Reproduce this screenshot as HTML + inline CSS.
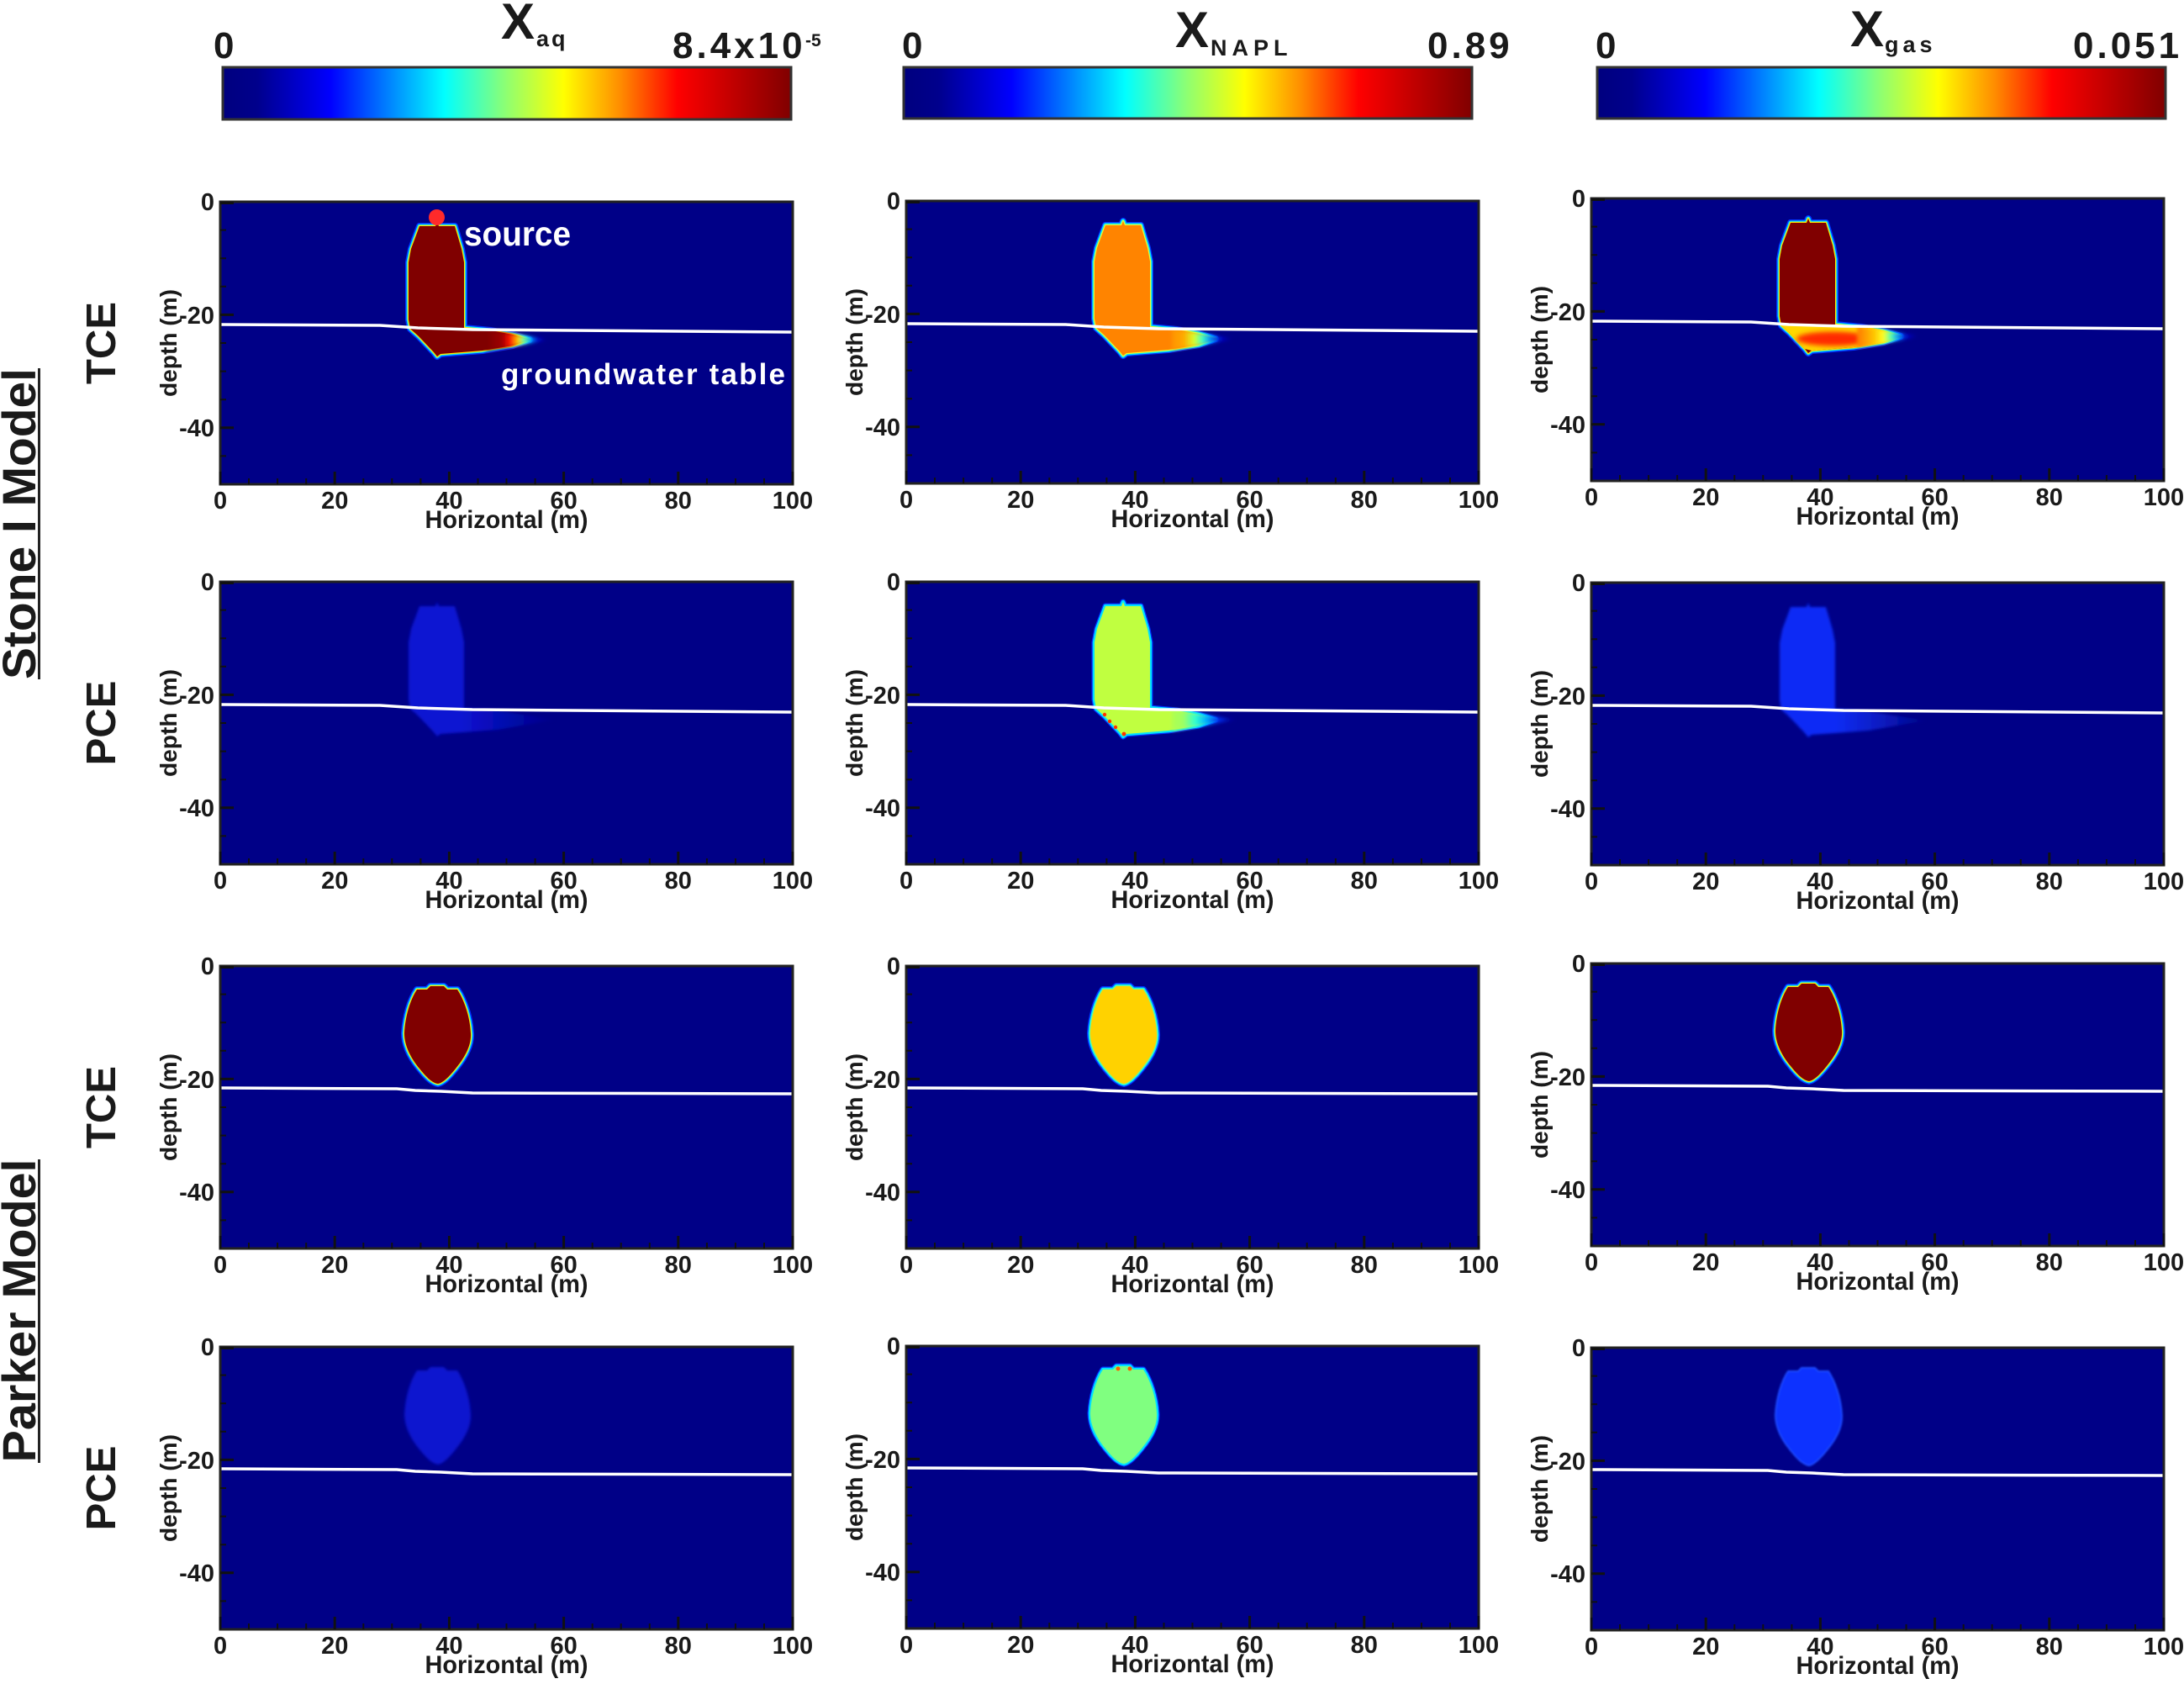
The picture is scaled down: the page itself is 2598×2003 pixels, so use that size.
<!DOCTYPE html>
<html><head><meta charset="utf-8">
<style>
html,body{margin:0;padding:0;background:#fff;width:2598px;height:2003px;overflow:hidden;}
svg{display:block;}
text{font-family:"Liberation Sans",Arial,sans-serif;font-weight:bold;fill:#1a1a1a;}
.xt{font-size:29px;text-anchor:middle;}
.yt{font-size:29px;text-anchor:end;}
.hl{font-size:30px;text-anchor:middle;}
.dl{font-size:28px;text-anchor:middle;}
.rl{font-size:49px;text-anchor:middle;}
.ml{font-size:56px;text-anchor:middle;}
.cb{font-size:44px;letter-spacing:4px;}
</style></head><body>
<svg width="2598" height="2003" viewBox="0 0 2598 2003" xmlns="http://www.w3.org/2000/svg">
<defs>
 <linearGradient id="jet" x1="0" x2="1" y1="0" y2="0">
  <stop offset="0" stop-color="#00007f"/>
  <stop offset="0.06" stop-color="#00008c"/>
  <stop offset="0.19" stop-color="#0000ff"/>
  <stop offset="0.29" stop-color="#0080ff"/>
  <stop offset="0.39" stop-color="#00ffff"/>
  <stop offset="0.50" stop-color="#90ff70"/>
  <stop offset="0.60" stop-color="#ffff00"/>
  <stop offset="0.70" stop-color="#ff8c00"/>
  <stop offset="0.80" stop-color="#ff0000"/>
  <stop offset="1" stop-color="#800000"/>
 </linearGradient>
 <linearGradient id="t11" gradientUnits="userSpaceOnUse" x1="318" y1="0" x2="388" y2="0">
  <stop offset="0" stop-color="#800000"/><stop offset="0.25" stop-color="#a00000"/>
  <stop offset="0.38" stop-color="#ff1000"/><stop offset="0.52" stop-color="#ffd000"/>
  <stop offset="0.62" stop-color="#60ffa0"/><stop offset="0.72" stop-color="#00b0ff"/>
  <stop offset="0.84" stop-color="#0010e0"/><stop offset="1" stop-color="#000087"/>
 </linearGradient>
 <linearGradient id="t12" gradientUnits="userSpaceOnUse" x1="305" y1="0" x2="388" y2="0">
  <stop offset="0" stop-color="#ff8400"/><stop offset="0.3" stop-color="#ffa800"/>
  <stop offset="0.45" stop-color="#d8ff28"/><stop offset="0.57" stop-color="#40ffc0"/>
  <stop offset="0.68" stop-color="#0090ff"/><stop offset="0.82" stop-color="#0008d0"/>
  <stop offset="1" stop-color="#000087"/>
 </linearGradient>
 <linearGradient id="t13" gradientUnits="userSpaceOnUse" x1="318" y1="0" x2="388" y2="0">
  <stop offset="0" stop-color="#ff8000"/><stop offset="0.25" stop-color="#ffc000"/>
  <stop offset="0.42" stop-color="#ffff20"/><stop offset="0.55" stop-color="#50ffb0"/>
  <stop offset="0.67" stop-color="#0090ff"/><stop offset="0.8" stop-color="#0008d0"/>
  <stop offset="1" stop-color="#000087"/>
 </linearGradient>
 <linearGradient id="t22" gradientUnits="userSpaceOnUse" x1="300" y1="0" x2="398" y2="0">
  <stop offset="0" stop-color="#c0ff40"/><stop offset="0.3" stop-color="#a0ff60"/>
  <stop offset="0.45" stop-color="#30ffd0"/><stop offset="0.58" stop-color="#00b0ff"/>
  <stop offset="0.72" stop-color="#0030f0"/><stop offset="0.86" stop-color="#0010b0"/>
  <stop offset="1" stop-color="#000087"/>
 </linearGradient>
 <linearGradient id="f21" gradientUnits="userSpaceOnUse" x1="285" y1="0" x2="398" y2="0">
  <stop offset="0" stop-color="#0a14d2"/><stop offset="1" stop-color="#000087"/>
 </linearGradient>
 <linearGradient id="f23" gradientUnits="userSpaceOnUse" x1="290" y1="0" x2="400" y2="0">
  <stop offset="0" stop-color="#0c2cf5"/><stop offset="0.5" stop-color="#0a1cc0"/><stop offset="1" stop-color="#000087"/>
 </linearGradient>
 <filter id="bl2" x="-30%" y="-30%" width="160%" height="160%"><feGaussianBlur stdDeviation="2"/></filter>
 <filter id="bl3" x="-30%" y="-30%" width="160%" height="160%"><feGaussianBlur stdDeviation="3"/></filter>
 <filter id="bl15" x="-20%" y="-20%" width="140%" height="140%"><feGaussianBlur stdDeviation="1.5"/></filter>
 <filter id="bl1" x="-20%" y="-20%" width="140%" height="140%"><feGaussianBlur stdDeviation="1"/></filter>

 <path id="pl" d="M237,29 L256,29 L258,24 L260,29 L279,29 L287,56 L290,72 L290,150 L322,153 L348,158 L368,164 L348,171 L312,177 L262,181 L258,184 L254,179 L236,160 L226,151 L224,140 L224,72 L227,56 Z"/>
 <path id="plL" d="M237,29 L256,29 L258,24 L260,29 L279,29 L287,56 L290,72 L290,150 L330,153 L398,164 L330,176 L262,181 L258,184 L254,179 L236,160 L226,151 L224,140 L224,72 L227,56 Z"/>
 <path id="tip" d="M316,152 L348,157 L392,164 L348,172 L316,177 Z"/>
 <path id="lo" d="M226,151 L290,150 L322,153 L348,158 L368,164 L348,171 L312,177 L262,181 L254,179 L236,160 Z"/>
 <path id="egg" d="M250,24 L266,24 L270,28 L282,28 C290,40 297,60 298,80 C299,95 290,110 280,122 C272,132 265,139 259,140 C252,139 245,132 237,122 C227,110 219,95 219,80 C220,60 226,40 234,28 L246,28 Z"/>
 <polyline id="wt1" fill="none" points="1.5,146 190,147 235,150 300,152 679.5,155"/>
 <polyline id="wt2" fill="none" points="1.5,145 210,146 232,148 262,149 300,151 679.5,152"/>
 <g id="fr">
  <rect x="0" y="0" width="681" height="336" fill="none" stroke="#222" stroke-width="3"/>
  <path fill="none" stroke="#111" stroke-width="3" d="M0,336v-15 M136.2,336v-15 M272.4,336v-15 M408.6,336v-15 M544.8,336v-15 M681,336v-15 M0,1.5h16 M0,134.4h16 M0,268.8h16"/>
  <path fill="none" stroke="#111" stroke-width="2" d="M34,336v-7 M68.1,336v-7 M102.2,336v-7 M170.3,336v-7 M204.3,336v-7 M238.4,336v-7 M306.5,336v-7 M340.5,336v-7 M374.6,336v-7 M442.7,336v-7 M476.7,336v-7 M510.8,336v-7 M578.9,336v-7 M612.9,336v-7 M647,336v-7 M0,33.6h7 M0,67.2h7 M0,100.8h7 M0,168h7 M0,201.6h7 M0,235.2h7 M0,302.4h7"/>
 </g>
</defs>

<rect x="0" y="0" width="2598" height="2003" fill="#fff"/>

<!-- Colorbars -->
<rect x="265" y="80" width="676" height="62" fill="url(#jet)" stroke="#333" stroke-width="3"/>
<rect x="1075" y="80" width="676" height="61" fill="url(#jet)" stroke="#333" stroke-width="3"/>
<rect x="1900" y="80" width="676" height="61" fill="url(#jet)" stroke="#333" stroke-width="3"/>

<text class="cb" x="254" y="69">0</text>
<text class="cb" x="800" y="69">8.4x10</text>
<text x="958" y="55" style="font-size:21px">-5</text>
<text x="596" y="46" style="font-size:60px">X</text>
<text x="638" y="55" style="font-size:27px;letter-spacing:3px">aq</text>

<text class="cb" x="1073" y="69">0</text>
<text class="cb" x="1698" y="69">0.89</text>
<text x="1398" y="56" style="font-size:60px">X</text>
<text x="1440" y="66" style="font-size:27px;letter-spacing:6px">NAPL</text>

<text class="cb" x="1898" y="69">0</text>
<text class="cb" x="2466" y="69">0.051</text>
<text x="2201" y="55" style="font-size:60px">X</text>
<text x="2242" y="62" style="font-size:27px;letter-spacing:5px">gas</text>

<!-- Left labels -->
<text class="ml" transform="translate(42,623) rotate(-90)" textLength="370" lengthAdjust="spacingAndGlyphs">Stone I Model</text>
<line x1="46.5" y1="438" x2="46.5" y2="808" stroke="#222" stroke-width="3"/>
<text class="ml" transform="translate(42,1559) rotate(-90)" textLength="361" lengthAdjust="spacingAndGlyphs">Parker Model</text>
<line x1="46.5" y1="1379" x2="46.5" y2="1740" stroke="#222" stroke-width="3"/>

<text class="rl" transform="translate(137,408) rotate(-90)">TCE</text>
<text class="rl" transform="translate(137,860) rotate(-90)">PCE</text>
<text class="rl" transform="translate(137,1317) rotate(-90)">TCE</text>
<text class="rl" transform="translate(137,1770) rotate(-90)">PCE</text>

<!-- ROW 1 -->
<g transform="translate(262,240)">
 <rect width="681" height="336" fill="#000087"/>
 <use href="#pl" fill="none" stroke="#0030ff" stroke-width="8" stroke-linejoin="round"/>
 <use href="#pl" fill="none" stroke="#00e0ff" stroke-width="5" stroke-linejoin="round"/>
 <use href="#pl" fill="none" stroke="#ffe800" stroke-width="2.4" stroke-linejoin="round"/>
 <use href="#pl" fill="#800000"/>
 <use href="#tip" fill="url(#t11)" filter="url(#bl2)"/>
 <circle cx="257.5" cy="18.5" r="9.5" fill="#ff2a2a"/>
 <use href="#wt1" stroke="#fff" stroke-width="3.5"/>
 <use href="#fr"/>
 <text class="xt" x="0" y="365">0</text><text class="xt" x="136.2" y="365">20</text><text class="xt" x="272.4" y="365">40</text><text class="xt" x="408.6" y="365">60</text><text class="xt" x="544.8" y="365">80</text><text class="xt" x="681" y="365">100</text>
 <text class="hl" x="340.5" y="388" textLength="194" lengthAdjust="spacingAndGlyphs">Horizontal (m)</text>
 <text class="yt" x="-7" y="10">0</text><text class="yt" x="-7" y="145">-20</text><text class="yt" x="-7" y="279">-40</text>
 <text class="dl" transform="translate(-52,168) rotate(-90)" textLength="128" lengthAdjust="spacingAndGlyphs">depth (m)</text>
</g>
<text x="552" y="292" style="font-size:41px;fill:#fff" textLength="127" lengthAdjust="spacingAndGlyphs">source</text>
<text x="596" y="457" style="font-size:35px;fill:#fff" textLength="338" lengthAdjust="spacing">groundwater table</text>

<g transform="translate(1078,239)">
 <rect width="681" height="336" fill="#000087"/>
 <use href="#pl" fill="none" stroke="#0030ff" stroke-width="8" stroke-linejoin="round"/>
 <use href="#pl" fill="none" stroke="#00e0ff" stroke-width="5.5" stroke-linejoin="round"/>
 <use href="#pl" fill="none" stroke="#e8ff30" stroke-width="2.5" stroke-linejoin="round"/>
 <use href="#pl" fill="#ff8400"/>
 <use href="#tip" fill="url(#t12)" filter="url(#bl2)"/>
 <use href="#wt1" stroke="#fff" stroke-width="3.5"/>
 <use href="#fr"/>
 <text class="xt" x="0" y="365">0</text><text class="xt" x="136.2" y="365">20</text><text class="xt" x="272.4" y="365">40</text><text class="xt" x="408.6" y="365">60</text><text class="xt" x="544.8" y="365">80</text><text class="xt" x="681" y="365">100</text>
 <text class="hl" x="340.5" y="388" textLength="194" lengthAdjust="spacingAndGlyphs">Horizontal (m)</text>
 <text class="yt" x="-7" y="10">0</text><text class="yt" x="-7" y="145">-20</text><text class="yt" x="-7" y="279">-40</text>
 <text class="dl" transform="translate(-52,168) rotate(-90)" textLength="128" lengthAdjust="spacingAndGlyphs">depth (m)</text>
</g>

<g transform="translate(1893,236)">
 <rect width="681" height="336" fill="#000087"/>
 <use href="#pl" fill="none" stroke="#0030ff" stroke-width="8" stroke-linejoin="round"/>
 <use href="#pl" fill="none" stroke="#00e0ff" stroke-width="5" stroke-linejoin="round"/>
 <use href="#pl" fill="none" stroke="#ffe800" stroke-width="2.4" stroke-linejoin="round"/>
 <use href="#pl" fill="#800000"/>
 <use href="#lo" fill="#ffd800"/>
 <ellipse cx="288" cy="167" rx="44" ry="8.5" fill="#ff2a00" filter="url(#bl3)"/>
 <use href="#tip" fill="url(#t13)" filter="url(#bl2)"/>
 <use href="#wt1" stroke="#fff" stroke-width="3.5"/>
 <use href="#fr"/>
 <text class="xt" x="0" y="365">0</text><text class="xt" x="136.2" y="365">20</text><text class="xt" x="272.4" y="365">40</text><text class="xt" x="408.6" y="365">60</text><text class="xt" x="544.8" y="365">80</text><text class="xt" x="681" y="365">100</text>
 <text class="hl" x="340.5" y="388" textLength="194" lengthAdjust="spacingAndGlyphs">Horizontal (m)</text>
 <text class="yt" x="-7" y="10">0</text><text class="yt" x="-7" y="145">-20</text><text class="yt" x="-7" y="279">-40</text>
 <text class="dl" transform="translate(-52,168) rotate(-90)" textLength="128" lengthAdjust="spacingAndGlyphs">depth (m)</text>
</g>

<!-- ROW 2 -->
<g transform="translate(262,692)">
 <rect width="681" height="336" fill="#000087"/>
 <use href="#plL" fill="url(#f21)" filter="url(#bl15)"/>
 <use href="#wt1" stroke="#fff" stroke-width="3.5"/>
 <use href="#fr"/>
 <text class="xt" x="0" y="365">0</text><text class="xt" x="136.2" y="365">20</text><text class="xt" x="272.4" y="365">40</text><text class="xt" x="408.6" y="365">60</text><text class="xt" x="544.8" y="365">80</text><text class="xt" x="681" y="365">100</text>
 <text class="hl" x="340.5" y="388" textLength="194" lengthAdjust="spacingAndGlyphs">Horizontal (m)</text>
 <text class="yt" x="-7" y="10">0</text><text class="yt" x="-7" y="145">-20</text><text class="yt" x="-7" y="279">-40</text>
 <text class="dl" transform="translate(-52,168) rotate(-90)" textLength="128" lengthAdjust="spacingAndGlyphs">depth (m)</text>
</g>

<g transform="translate(1078,692)">
 <rect width="681" height="336" fill="#000087"/>
 <use href="#pl" fill="none" stroke="#0030ff" stroke-width="7" stroke-linejoin="round"/>
 <use href="#pl" fill="none" stroke="#00e0ff" stroke-width="4.5" stroke-linejoin="round"/>
 <use href="#pl" fill="#c0ff40"/>
 <use href="#tip" fill="url(#t22)" filter="url(#bl2)"/>
 <circle cx="236" cy="158" r="2.2" fill="#ff3000"/>
 <circle cx="242" cy="166" r="2.2" fill="#ff3000"/>
 <circle cx="249" cy="173" r="2.2" fill="#ff3000"/>
 <circle cx="259" cy="181" r="2.4" fill="#ff3000"/>
 <use href="#wt1" stroke="#fff" stroke-width="3.5"/>
 <use href="#fr"/>
 <text class="xt" x="0" y="365">0</text><text class="xt" x="136.2" y="365">20</text><text class="xt" x="272.4" y="365">40</text><text class="xt" x="408.6" y="365">60</text><text class="xt" x="544.8" y="365">80</text><text class="xt" x="681" y="365">100</text>
 <text class="hl" x="340.5" y="388" textLength="194" lengthAdjust="spacingAndGlyphs">Horizontal (m)</text>
 <text class="yt" x="-7" y="10">0</text><text class="yt" x="-7" y="145">-20</text><text class="yt" x="-7" y="279">-40</text>
 <text class="dl" transform="translate(-52,168) rotate(-90)" textLength="128" lengthAdjust="spacingAndGlyphs">depth (m)</text>
</g>

<g transform="translate(1893,693)">
 <rect width="681" height="336" fill="#000087"/>
 <use href="#plL" fill="url(#f23)" filter="url(#bl15)"/>
 <use href="#wt1" stroke="#fff" stroke-width="3.5"/>
 <use href="#fr"/>
 <text class="xt" x="0" y="365">0</text><text class="xt" x="136.2" y="365">20</text><text class="xt" x="272.4" y="365">40</text><text class="xt" x="408.6" y="365">60</text><text class="xt" x="544.8" y="365">80</text><text class="xt" x="681" y="365">100</text>
 <text class="hl" x="340.5" y="388" textLength="194" lengthAdjust="spacingAndGlyphs">Horizontal (m)</text>
 <text class="yt" x="-7" y="10">0</text><text class="yt" x="-7" y="145">-20</text><text class="yt" x="-7" y="279">-40</text>
 <text class="dl" transform="translate(-52,168) rotate(-90)" textLength="128" lengthAdjust="spacingAndGlyphs">depth (m)</text>
</g>

<!-- ROW 3 -->
<g transform="translate(262,1149)">
 <rect width="681" height="336" fill="#000087"/>
 <use href="#egg" fill="none" stroke="#0030ff" stroke-width="8" stroke-linejoin="round"/>
 <use href="#egg" fill="none" stroke="#00e0ff" stroke-width="5" stroke-linejoin="round"/>
 <use href="#egg" fill="none" stroke="#ffe800" stroke-width="2.4" stroke-linejoin="round"/>
 <use href="#egg" fill="#800000"/>
 <use href="#wt2" stroke="#fff" stroke-width="3.5"/>
 <use href="#fr"/>
 <text class="xt" x="0" y="365">0</text><text class="xt" x="136.2" y="365">20</text><text class="xt" x="272.4" y="365">40</text><text class="xt" x="408.6" y="365">60</text><text class="xt" x="544.8" y="365">80</text><text class="xt" x="681" y="365">100</text>
 <text class="hl" x="340.5" y="388" textLength="194" lengthAdjust="spacingAndGlyphs">Horizontal (m)</text>
 <text class="yt" x="-7" y="10">0</text><text class="yt" x="-7" y="145">-20</text><text class="yt" x="-7" y="279">-40</text>
 <text class="dl" transform="translate(-52,168) rotate(-90)" textLength="128" lengthAdjust="spacingAndGlyphs">depth (m)</text>
</g>

<g transform="translate(1078,1149)">
 <rect width="681" height="336" fill="#000087"/>
 <use href="#egg" fill="none" stroke="#0030ff" stroke-width="8" stroke-linejoin="round"/>
 <use href="#egg" fill="none" stroke="#00e0ff" stroke-width="5" stroke-linejoin="round"/>
 <use href="#egg" fill="none" stroke="#70ff90" stroke-width="2.4" stroke-linejoin="round"/>
 <use href="#egg" fill="#ffd200"/>
 <use href="#wt2" stroke="#fff" stroke-width="3.5"/>
 <use href="#fr"/>
 <text class="xt" x="0" y="365">0</text><text class="xt" x="136.2" y="365">20</text><text class="xt" x="272.4" y="365">40</text><text class="xt" x="408.6" y="365">60</text><text class="xt" x="544.8" y="365">80</text><text class="xt" x="681" y="365">100</text>
 <text class="hl" x="340.5" y="388" textLength="194" lengthAdjust="spacingAndGlyphs">Horizontal (m)</text>
 <text class="yt" x="-7" y="10">0</text><text class="yt" x="-7" y="145">-20</text><text class="yt" x="-7" y="279">-40</text>
 <text class="dl" transform="translate(-52,168) rotate(-90)" textLength="128" lengthAdjust="spacingAndGlyphs">depth (m)</text>
</g>

<g transform="translate(1893,1146)">
 <rect width="681" height="336" fill="#000087"/>
 <use href="#egg" fill="none" stroke="#0030ff" stroke-width="8" stroke-linejoin="round"/>
 <use href="#egg" fill="none" stroke="#00e0ff" stroke-width="5" stroke-linejoin="round"/>
 <use href="#egg" fill="none" stroke="#ffe800" stroke-width="2.4" stroke-linejoin="round"/>
 <use href="#egg" fill="#800000"/>
 <use href="#wt2" stroke="#fff" stroke-width="3.5"/>
 <use href="#fr"/>
 <text class="xt" x="0" y="365">0</text><text class="xt" x="136.2" y="365">20</text><text class="xt" x="272.4" y="365">40</text><text class="xt" x="408.6" y="365">60</text><text class="xt" x="544.8" y="365">80</text><text class="xt" x="681" y="365">100</text>
 <text class="hl" x="340.5" y="388" textLength="194" lengthAdjust="spacingAndGlyphs">Horizontal (m)</text>
 <text class="yt" x="-7" y="10">0</text><text class="yt" x="-7" y="145">-20</text><text class="yt" x="-7" y="279">-40</text>
 <text class="dl" transform="translate(-52,168) rotate(-90)" textLength="128" lengthAdjust="spacingAndGlyphs">depth (m)</text>
</g>

<!-- ROW 4 -->
<g transform="translate(262,1602)">
 <rect width="681" height="336" fill="#000087"/>
 <use href="#egg" fill="#0a14cf" filter="url(#bl15)"/>
 <use href="#wt2" stroke="#fff" stroke-width="3.5"/>
 <use href="#fr"/>
 <text class="xt" x="0" y="365">0</text><text class="xt" x="136.2" y="365">20</text><text class="xt" x="272.4" y="365">40</text><text class="xt" x="408.6" y="365">60</text><text class="xt" x="544.8" y="365">80</text><text class="xt" x="681" y="365">100</text>
 <text class="hl" x="340.5" y="388" textLength="194" lengthAdjust="spacingAndGlyphs">Horizontal (m)</text>
 <text class="yt" x="-7" y="10">0</text><text class="yt" x="-7" y="145">-20</text><text class="yt" x="-7" y="279">-40</text>
 <text class="dl" transform="translate(-52,168) rotate(-90)" textLength="128" lengthAdjust="spacingAndGlyphs">depth (m)</text>
</g>

<g transform="translate(1078,1601)">
 <rect width="681" height="336" fill="#000087"/>
 <use href="#egg" fill="none" stroke="#0030ff" stroke-width="7" stroke-linejoin="round"/>
 <use href="#egg" fill="none" stroke="#00e0ff" stroke-width="4.5" stroke-linejoin="round"/>
 <use href="#egg" fill="#80ff80"/>
 <circle cx="252" cy="27" r="2.5" fill="#ff6000"/>
 <circle cx="266" cy="27" r="2.5" fill="#ff6000"/>
 <use href="#wt2" stroke="#fff" stroke-width="3.5"/>
 <use href="#fr"/>
 <text class="xt" x="0" y="365">0</text><text class="xt" x="136.2" y="365">20</text><text class="xt" x="272.4" y="365">40</text><text class="xt" x="408.6" y="365">60</text><text class="xt" x="544.8" y="365">80</text><text class="xt" x="681" y="365">100</text>
 <text class="hl" x="340.5" y="388" textLength="194" lengthAdjust="spacingAndGlyphs">Horizontal (m)</text>
 <text class="yt" x="-7" y="10">0</text><text class="yt" x="-7" y="145">-20</text><text class="yt" x="-7" y="279">-40</text>
 <text class="dl" transform="translate(-52,168) rotate(-90)" textLength="128" lengthAdjust="spacingAndGlyphs">depth (m)</text>
</g>

<g transform="translate(1893,1603)">
 <rect width="681" height="336" fill="#000087"/>
 <use href="#egg" fill="#0d30ff" stroke="#1a48ff" stroke-width="2" filter="url(#bl1)"/>
 <use href="#wt2" stroke="#fff" stroke-width="3.5"/>
 <use href="#fr"/>
 <text class="xt" x="0" y="365">0</text><text class="xt" x="136.2" y="365">20</text><text class="xt" x="272.4" y="365">40</text><text class="xt" x="408.6" y="365">60</text><text class="xt" x="544.8" y="365">80</text><text class="xt" x="681" y="365">100</text>
 <text class="hl" x="340.5" y="388" textLength="194" lengthAdjust="spacingAndGlyphs">Horizontal (m)</text>
 <text class="yt" x="-7" y="10">0</text><text class="yt" x="-7" y="145">-20</text><text class="yt" x="-7" y="279">-40</text>
 <text class="dl" transform="translate(-52,168) rotate(-90)" textLength="128" lengthAdjust="spacingAndGlyphs">depth (m)</text>
</g>

</svg>
</body></html>
